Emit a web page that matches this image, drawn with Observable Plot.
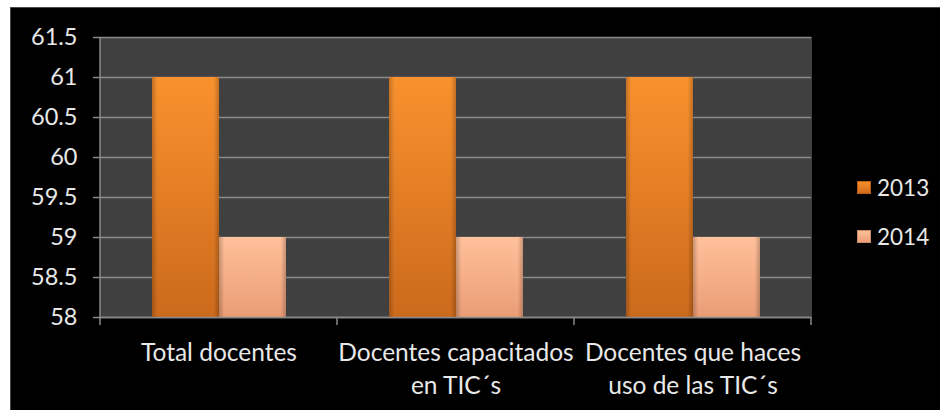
<!DOCTYPE html>
<html>
<head>
<meta charset="utf-8">
<script src="https://cdn.jsdelivr.net/npm/d3@7"></script>
<script src="https://cdn.jsdelivr.net/npm/@observablehq/plot@0.6"></script>
<style>
html, body { margin: 0; padding: 0; background: #fff; width: 940px; height: 410px; overflow: hidden; }
#frame { position: absolute; left: 10px; top: 7px; width: 930px; height: 403px; background: #000;
  box-shadow: inset 1px 1px 0 #4a4a4a; font-family: Lato, sans-serif; }
#chart { position: absolute; left: 0; top: 0; }
#legend { position: absolute; left: 847px; top: 156px; color: #e8e8e8; font-size: 22.5px; }
.item { display: flex; align-items: center; height: 49px; }
.sw { width: 14px; height: 13px; margin-right: 6px; }
</style>
</head>
<body>
<div id="frame">
  <div id="chart"></div>
  <div id="legend"></div>
</div>
<script>
const categories = ["Total docentes", "Docentes capacitados\nen TIC´s", "Docentes que haces\nuso de las TIC´s"];
const years = ["2013", "2014"];
const values2013 = [61, 61, 61];
const values2014 = [59, 59, 59];
const yDomain = [58, 61.5];
const yTicks = [58, 58.5, 59, 59.5, 60, 60.5, 61, 61.5];
const yTickLabels = ["58", "58.5", "59", "59.5", "60", "60.5", "61", "61.5"];

const colors = {
  "2013": { top: "#F9912E", bottom: "#CC6A1C", edge: "#B85E18" },
  "2014": { top: "#FFC09A", bottom: "#EA9D76", edge: "#D08A66" }
};

const rows = [];
categories.forEach((c, i) => {
  rows.push({ cat: c, year: years[0], value: values2013[i] });
  rows.push({ cat: c, year: years[1], value: values2014[i] });
});

const gridColor = "#8a8a8a";
const chart = Plot.plot({
  width: 930,
  height: 403,
  marginLeft: 89,
  marginRight: 128,
  marginTop: 30,
  marginBottom: 93,
  style: { background: "transparent", color: "#e8e8e8", fontFamily: "Lato, sans-serif", fontSize: "22px", overflow: "visible" },
  fx: { domain: categories, paddingInner: 0, paddingOuter: 0, label: null },
  x: { domain: years, paddingInner: 0, paddingOuter: 0.75, axis: null },
  y: { domain: yDomain, label: null },
  color: { domain: years, range: ["url(#g2013)", "url(#g2014)"] },
  marks: [
    Plot.frame({ fill: "#404040", stroke: "#404040", strokeWidth: 1 }),
    Plot.gridY(yTicks, { stroke: gridColor, strokeOpacity: 1, strokeWidth: 1.5 }),
    Plot.barY(rows, { fx: "cat", x: "year", y1: yDomain[0], y2: "value", fill: "year" }),
    Plot.barY(rows, { fx: "cat", x: "year", y1: yDomain[0], y2: "value", fill: "url(#bevel)" }),
    Plot.ruleY([yDomain[0]], { stroke: gridColor, strokeWidth: 1.5 }),
    Plot.axisY(yTicks, {
      tickSize: 7, tickPadding: 16, stroke: gridColor, strokeWidth: 1.5, fontSize: 23.5,
      tickFormat: (d) => yTickLabels[yTicks.indexOf(d)], fill: "#e8e8e8"
    }),
    Plot.axisFx({ anchor: "bottom", tickSize: 0, tickPadding: 20, lineHeight: 1.34, fontSize: 24.5, fill: "#e8e8e8", label: null })
  ]
});

// gradients
const svg = d3.select(chart);
const defs = svg.insert("defs", ":first-child");
for (const y of years) {
  const g = defs.append("linearGradient").attr("id", "g" + y).attr("x1", 0).attr("y1", 0).attr("x2", 0).attr("y2", 1);
  g.append("stop").attr("offset", "0%").attr("stop-color", colors[y].top);
  g.append("stop").attr("offset", "100%").attr("stop-color", colors[y].bottom);
}
const bev = defs.append("linearGradient").attr("id", "bevel").attr("x1", 0).attr("y1", 0).attr("x2", 1).attr("y2", 0);
bev.append("stop").attr("offset", "0%").attr("stop-color", "#000").attr("stop-opacity", 0.22);
bev.append("stop").attr("offset", "8%").attr("stop-color", "#000").attr("stop-opacity", 0);
bev.append("stop").attr("offset", "92%").attr("stop-color", "#000").attr("stop-opacity", 0);
bev.append("stop").attr("offset", "100%").attr("stop-color", "#000").attr("stop-opacity", 0.22);

// left axis line and category boundary ticks, positioned from the chart's scales
const ys = chart.scale("y"), fxs = chart.scale("fx");
const y0 = ys.apply(yDomain[0]), y1 = ys.apply(yDomain[1]);
const left = fxs.apply(categories[0]);
svg.append("line").attr("x1", left).attr("x2", left).attr("y1", y1).attr("y2", y0)
  .attr("stroke", gridColor).attr("stroke-width", 1.5);
const edges = categories.map(c => fxs.apply(c));
edges.push(fxs.apply(categories[categories.length - 1]) + fxs.bandwidth);
for (const e of edges) {
  svg.append("line").attr("x1", e).attr("x2", e).attr("y1", y0).attr("y2", y0 + 8)
    .attr("stroke", gridColor).attr("stroke-width", 1.5);
}
document.getElementById("chart").append(chart);

// legend
const leg = d3.select("#legend");
for (const y of years) {
  const it = leg.append("div").attr("class", "item");
  it.append("div").attr("class", "sw")
    .style("background", `linear-gradient(${colors[y].top}, ${colors[y].bottom})`)
    .style("box-shadow", `inset 0 0 0 1px ${colors[y].edge}`);
  it.append("span").text(y);
}
</script>
</body>
</html>
